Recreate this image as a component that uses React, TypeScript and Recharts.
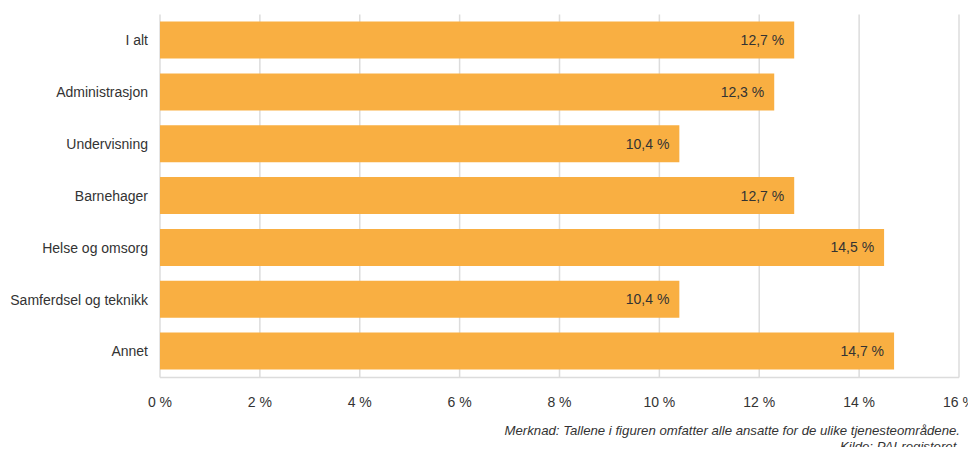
import { Bar, BarChart, CartesianGrid, LabelList, XAxis, YAxis } from "recharts"

const categories = [
  "I alt",
  "Administrasjon",
  "Undervisning",
  "Barnehager",
  "Helse og omsorg",
  "Samferdsel og teknikk",
  "Annet",
]
const shares = [12.7, 12.3, 10.4, 12.7, 14.5, 10.4, 14.7]
const xTicks = [0, 2, 4, 6, 8, 10, 12, 14, 16]
const noteLines = [
  "Merknad: Tallene i figuren omfatter alle ansatte for de ulike tjenesteområdene.",
  "Kilde: PAI-registeret.",
]

const FONT = "'Liberation Sans', Arial, Helvetica, sans-serif"
const TEXT = "#333333"

const data = categories.map((name, i) => ({ name, value: shares[i] }))

const pct = (v: number) => `${String(v).replace(".", ",")} %`

export default function App() {
  return (
    <div
      style={{
        position: "relative",
        width: 976,
        height: 455,
        margin: -8,
        overflow: "hidden",
        background: "#fff",
        fontFamily: FONT,
      }}
    >
      <BarChart
        width={976}
        height={420}
        data={data}
        layout="vertical"
        margin={{ top: 14.6, right: 17, bottom: 12.6, left: 0 }}
        style={{ overflow: "visible" }}
      >
        <CartesianGrid horizontal={false} stroke="#dcdcdc" strokeWidth={1.5} />
        <XAxis
          type="number"
          domain={[0, 16]}
          ticks={xTicks}
          tickFormatter={pct}
          height={30}
          tickLine={false}
          tickSize={0}
          tickMargin={20}
          axisLine={{ stroke: "#dcdcdc", strokeWidth: 1.5 }}
          tick={{ fill: TEXT, fontSize: 14, fontFamily: FONT }}
          interval={0}
        />
        <YAxis
          type="category"
          dataKey="name"
          width={160}
          tickLine={false}
          axisLine={false}
          tickSize={0}
          tickMargin={12}
          tick={{ fill: TEXT, fontSize: 14, fontFamily: FONT }}
          interval={0}
        />
        <Bar dataKey="value" fill="#F9AF42" barSize={37} isAnimationActive={false}>
          <LabelList
            dataKey="value"
            position="insideRight"
            offset={10}
            formatter={(v: any) => pct(Number(v))}
            style={{ fill: TEXT, fontSize: 14, fontFamily: FONT }}
          />
        </Bar>
      </BarChart>
      {noteLines.map((line, i) => (
        <div
          key={i}
          style={{
            position: "absolute",
            right: 16,
            top: 423 + i * 16,
            fontSize: 13.2,
            lineHeight: "16px",
            fontStyle: "italic",
            color: TEXT,
            whiteSpace: "nowrap",
          }}
        >
          {line}
        </div>
      ))}
    </div>
  )
}
